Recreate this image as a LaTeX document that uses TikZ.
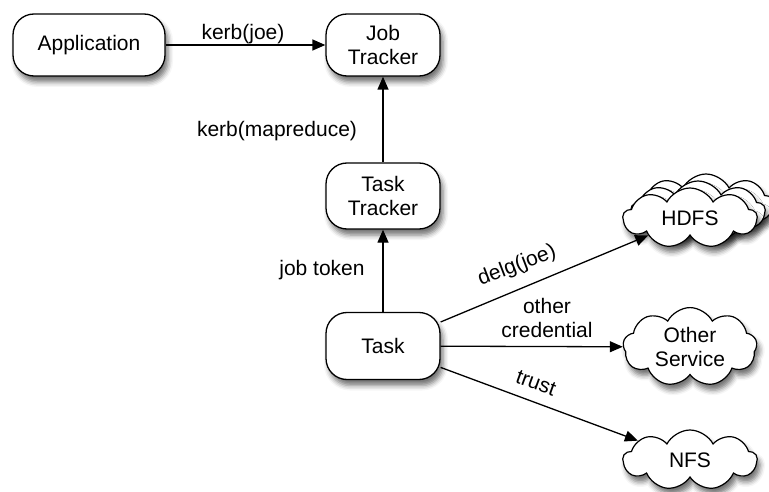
\documentclass[tikz,border=0pt]{standalone}
\usepackage{fontspec}
\setmainfont{Liberation Sans}
\usetikzlibrary{arrows.meta,shapes.symbols,shadows.blur}
\begin{document}
\begin{tikzpicture}[x=1pt,y=-1pt,
  font=\fontsize{21}{24.5}\selectfont,
  sh/.style={blur shadow={shadow xshift=3pt,shadow yshift=-6pt,shadow blur radius=5pt,shadow opacity=55}},
  box/.style={draw,line width=1.3pt,fill=white,rounded corners=21pt,align=center,inner sep=0pt,sh},
  cld/.style={draw,line width=1.2pt,fill=white,cloud,cloud puffs=9,cloud puff arc=125,aspect=2.2,inner sep=0pt,minimum width=134pt,minimum height=60pt,align=center,sh},
  arr/.style={line width=1.3pt,-{Triangle[length=13pt,width=11pt]}},
  lbl/.style={align=center,inner sep=0pt}]
\useasboundingbox (0,0) rectangle (769,492);
\node[box,minimum width=152pt,minimum height=62pt] (app) at (89,45) {Application};
\node[box,minimum width=114pt,minimum height=62pt] (jt) at (383,45) {Job\\Tracker};
\node[box,minimum width=114pt,minimum height=66pt] (tt) at (383,196) {Task\\Tracker};
\node[box,minimum width=114pt,minimum height=67pt] (task) at (383,346) {Task};
\node[cld] (hdfs3) at (706,204) {};
\node[cld] (hdfs2) at (698,211) {};
\node[cld] (hdfs) at (690,218) {HDFS};
\node[cld] (other) at (690,347) {Other\\Service};
\node[cld] (nfs) at (690,460) {NFS};
\draw[arr] (app) -- (jt);
\draw[arr] (tt) -- (jt);
\draw[arr] (task) -- (tt);
\draw[arr] (task) -- (hdfs);
\draw[arr] (task) -- (other);
\draw[arr] (task) -- (nfs);
\node[lbl] (l1) at (243,34) {kerb(joe)};
\node[lbl] (l2) at (277,131) {kerb(mapreduce)};
\node[lbl] (l3) at (322,270) {job token};
\node[lbl,rotate=21] (l4) at (517,266) {delg(joe)};
\node[lbl] (l5) at (547,318) {other\\credential};
\node[lbl,rotate=-20] (l6) at (536,383) {trust};
\end{tikzpicture}
\end{document}
